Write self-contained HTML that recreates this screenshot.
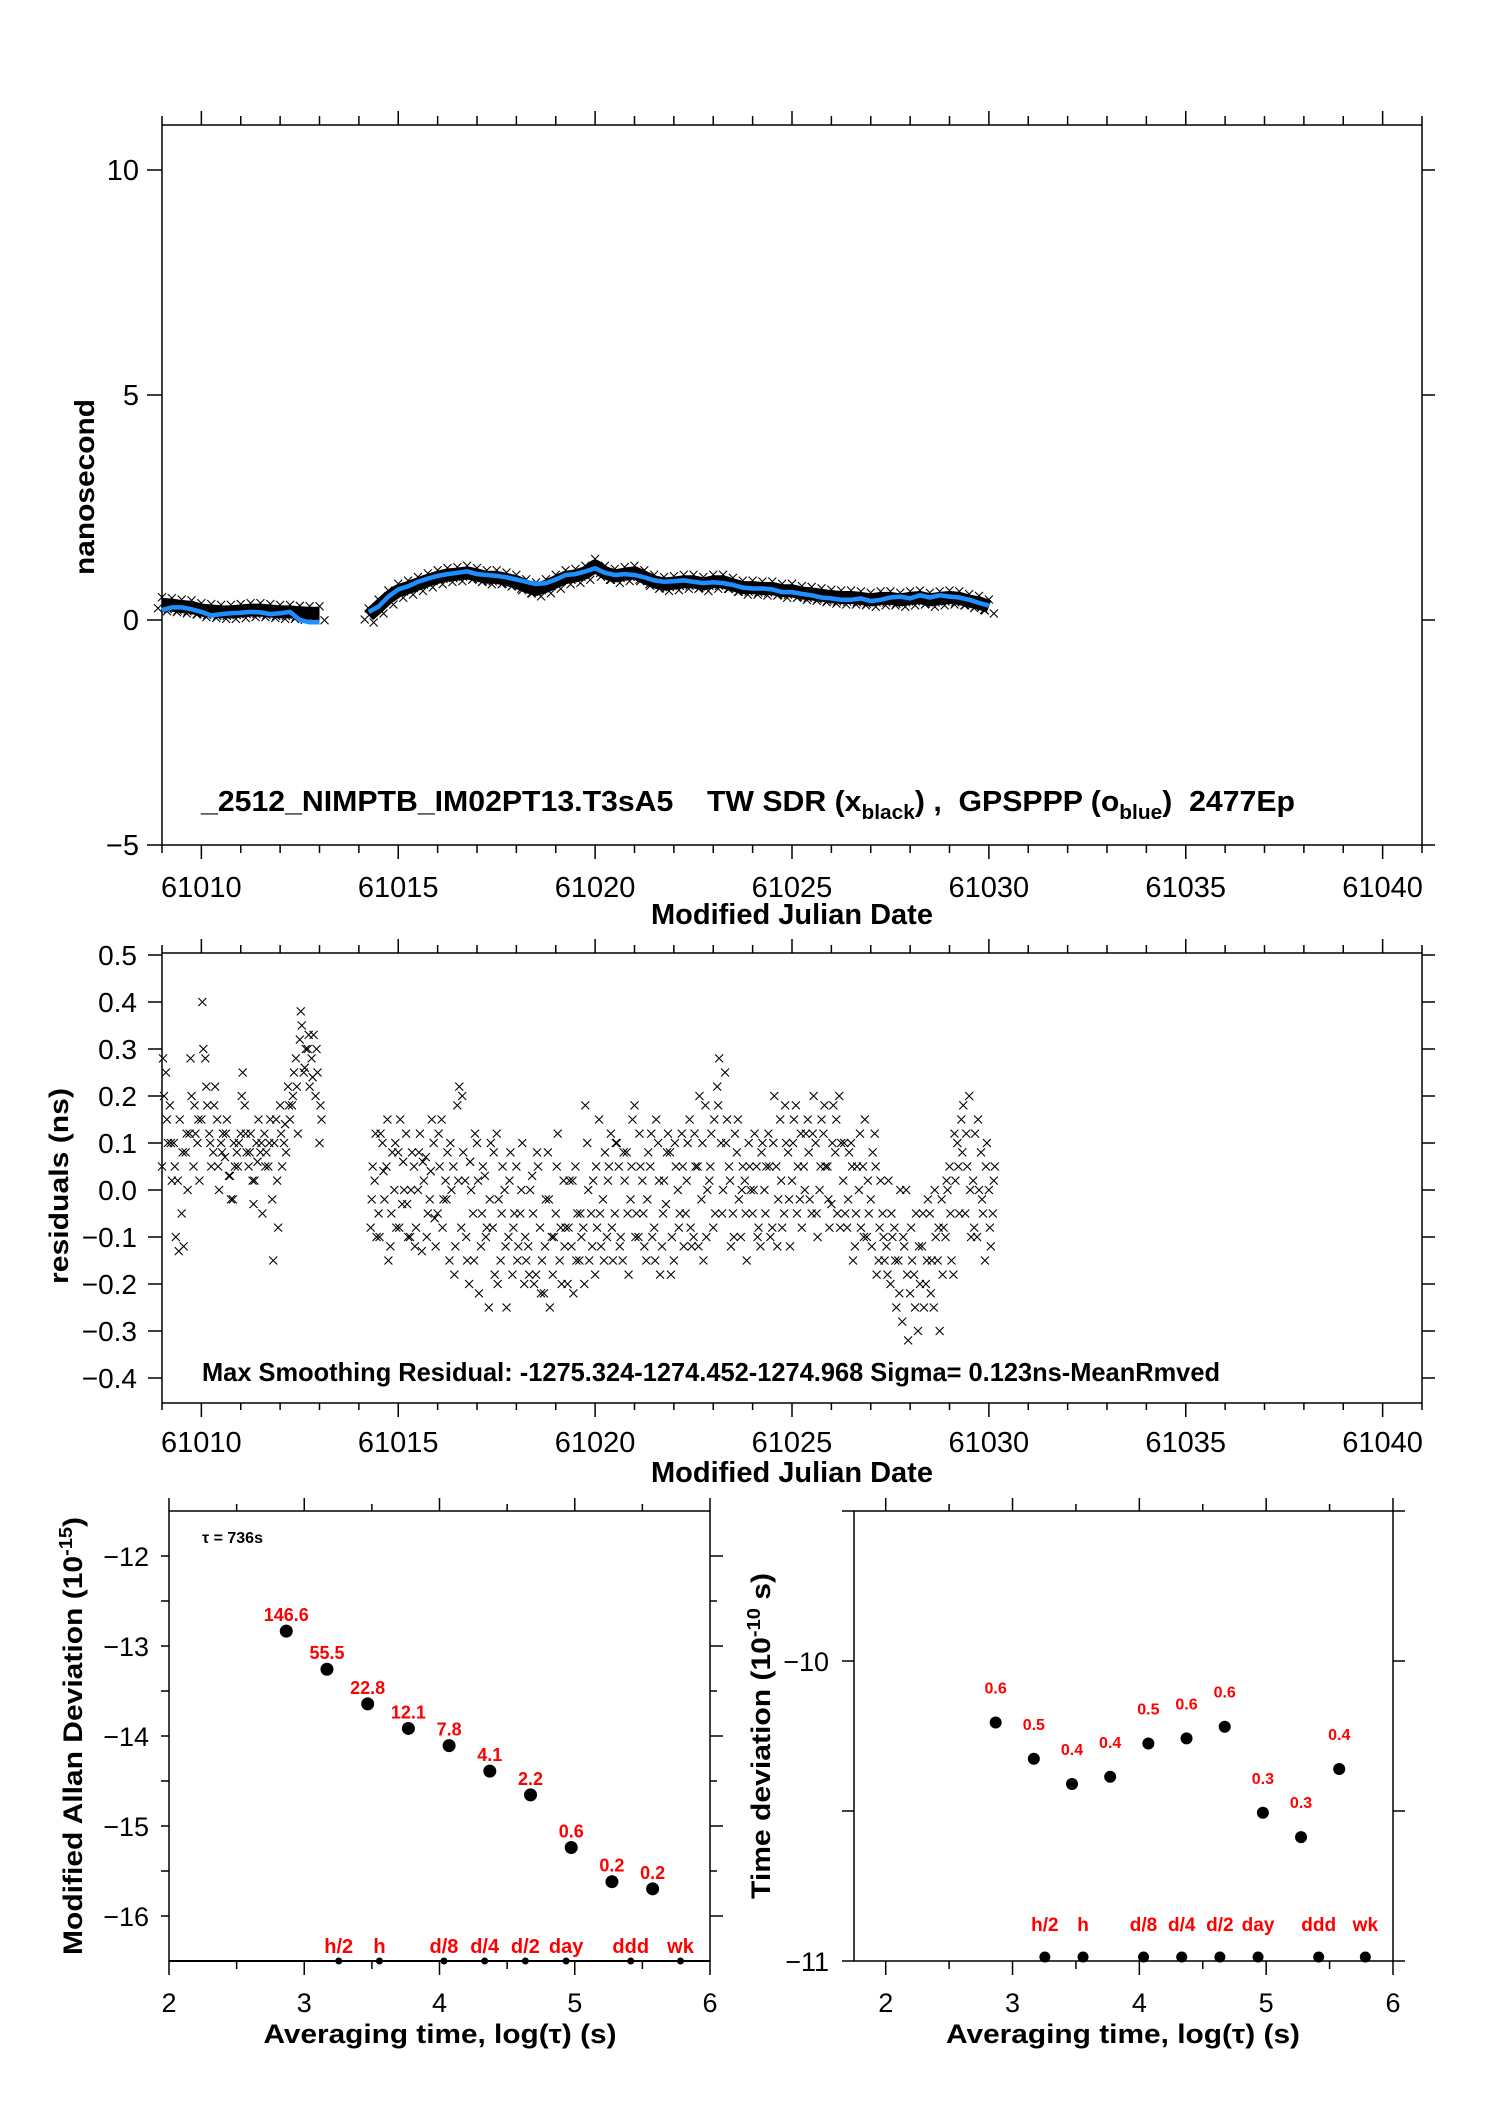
<!DOCTYPE html>
<html><head><meta charset="utf-8">
<style>
html,body{margin:0;padding:0;background:#fff;}
svg{display:block;font-family:"Liberation Sans",sans-serif;}
</style></head>
<body>
<svg id="chart" width="1488" height="2105" viewBox="0 0 1488 2105" xmlns="http://www.w3.org/2000/svg">
<rect x="0" y="0" width="1488" height="2105" fill="#fff"/>
<g id="top-plot"></g>
<g id="mid-plot"></g>
<g id="bl-plot"></g>
<g id="br-plot"></g>
</svg>
<script>
// ---------- DATA ----------
const seg1Start = 61009.0, seg2Start = 61014.25, topStep = 0.25;
const blackSeg1 = [0.35,0.33,0.30,0.28,0.22,0.20,0.18,0.18,0.20,0.22,0.22,0.20,0.18,0.18,0.16,0.15,0.15];
const blueSeg1  = [0.22,0.28,0.28,0.24,0.18,0.10,0.13,0.15,0.16,0.18,0.17,0.13,0.15,0.18,0.0,-0.05,-0.05];
const blackSeg2 = [0.10,0.30,0.50,0.65,0.72,0.80,0.88,0.95,1.0,1.02,1.05,1.0,0.95,0.95,0.90,0.85,0.75,0.68,0.75,0.85,0.95,0.98,1.05,1.2,1.05,0.98,1.02,1.05,0.95,0.85,0.80,0.82,0.85,0.85,0.80,0.85,0.85,0.78,0.72,0.72,0.70,0.70,0.65,0.65,0.60,0.58,0.55,0.52,0.50,0.50,0.48,0.45,0.48,0.48,0.45,0.48,0.50,0.45,0.48,0.50,0.48,0.42,0.38,0.30];
const blueSeg2  = [0.18,0.30,0.52,0.68,0.75,0.85,0.92,0.98,1.02,1.05,1.08,1.02,1.0,0.98,0.95,0.90,0.85,0.80,0.82,0.90,1.0,1.02,1.08,1.15,1.05,1.0,1.02,1.0,0.95,0.88,0.85,0.86,0.88,0.85,0.82,0.84,0.82,0.78,0.72,0.70,0.70,0.68,0.62,0.62,0.58,0.55,0.50,0.48,0.45,0.45,0.48,0.42,0.45,0.50,0.52,0.48,0.55,0.50,0.55,0.52,0.50,0.45,0.38,0.32];
const topYTicks = [10,5,0,-5];
const topYLabels = ["10","5","0","\u22125"];
const mjdTicks = [61010,61015,61020,61025,61030,61035,61040];

const resStep = 0.1, res1Start = 61009.0, res2Start = 61014.3;
const res1A = [0.05,0.25,0.18,0.10,0.02,-0.05,0.08,0.12,0.05,0.10,0.15,0.28,0.12,0.08,0.15,0.10,0.07,0.03,-0.02,0.08,0.12,0.18,0.05,0.02,0.10,0.08,0.12,0.05,-0.02,0.15,0.18,0.10,0.22,0.18,0.28,0.32,0.25,0.30,0.28,0.20,0.10];
const res1B = [0.20,0.10,0.02,-0.10,0.15,-0.12,0.0,0.20,0.12,0.02,0.30,0.18,0.05,0.22,0.0,0.12,0.15,-0.02,0.05,0.10,0.25,0.08,0.12,0.02,0.15,-0.05,0.08,0.15,0.10,-0.08,0.05,0.08,0.15,0.25,0.12,0.35,0.30,0.22,0.33,0.25,0.15];
const res1C = [0.28,0.15,0.10,0.05,-0.13,0.08,0.12,0.28,0.18,0.15,0.40,0.22,0.10,0.18,0.05,0.08,0.12,0.03,0.10,0.05,0.20,0.12,0.08,-0.03,0.06,0.10,0.05,0.10,-0.15,0.02,0.12,0.14,0.18,0.20,0.22,0.38,0.26,0.33,0.24,0.30,0.18];
const res2A = [-0.08,0.02,-0.05,0.10,0.05,-0.12,0.0,0.08,-0.03,0.12,
-0.10,0.05,0.0,-0.13,0.07,-0.02,0.10,-0.05,0.15,0.02,
-0.15,0.05,0.18,-0.08,0.02,-0.20,-0.05,0.10,-0.12,0.03,
-0.25,-0.08,0.12,-0.15,0.0,-0.10,-0.18,0.05,-0.05,-0.20,
-0.12,0.03,-0.18,-0.08,-0.22,0.08,-0.10,-0.05,-0.15,0.02,
-0.20,-0.12,0.05,-0.15,-0.08,0.10,-0.05,-0.18,0.15,-0.02,
-0.10,0.12,-0.05,0.05,-0.15,0.08,-0.02,0.18,-0.10,0.02,
-0.15,0.05,-0.08,0.10,-0.12,-0.03,0.08,-0.15,0.0,0.12,
-0.05,0.15,-0.10,0.05,-0.02,0.18,0.02,-0.08,0.22,0.10,
0.25,0.05,-0.05,0.08,-0.10,0.02,0.10,-0.05,0.05,-0.12,
0.0,0.12,-0.08,0.05,0.15,-0.05,0.08,0.02,0.18,-0.02,
0.05,0.15,-0.05,0.10,0.0,0.12,0.05,-0.03,0.08,0.20,
0.02,-0.08,0.10,-0.12,0.0,0.05,-0.10,-0.02,0.12,-0.15,
-0.05,-0.12,-0.20,-0.08,-0.15,-0.28,0.0,-0.22,-0.18,-0.30,
-0.12,-0.20,-0.05,-0.25,-0.15,-0.02,-0.10,0.05,-0.18,0.10,
0.15,-0.05,0.20,0.02,-0.10,0.08,-0.15,0.0,-0.05];
const res2B = [0.05,-0.10,0.12,-0.02,-0.15,0.08,-0.08,0.15,0.0,-0.10,
0.08,-0.08,0.12,0.02,-0.05,0.15,-0.12,0.05,-0.02,0.08,
0.0,-0.12,0.22,0.08,-0.15,0.0,0.12,-0.22,0.05,-0.08,
0.10,-0.18,-0.02,0.05,-0.25,0.08,-0.05,-0.12,0.10,-0.15,
0.0,-0.20,0.05,-0.15,-0.02,-0.25,-0.10,0.12,-0.20,-0.08,
0.02,-0.22,-0.05,-0.10,0.18,-0.15,0.02,-0.08,-0.12,0.08,
0.05,-0.15,0.10,-0.10,0.02,-0.18,0.15,-0.05,0.05,-0.12,
0.08,-0.10,0.15,-0.18,0.02,0.12,-0.10,0.05,-0.05,-0.12,
0.10,-0.12,0.05,0.20,-0.15,0.0,0.12,-0.05,0.28,0.0,
0.15,-0.12,0.12,-0.02,0.05,-0.15,0.0,0.12,-0.08,0.10,
0.05,-0.10,0.20,-0.02,-0.08,0.10,-0.12,0.15,0.05,-0.08,
0.12,-0.02,0.20,-0.10,0.15,0.05,-0.08,0.18,-0.05,0.10,
-0.05,0.08,-0.15,0.05,-0.08,0.15,-0.05,0.08,-0.18,0.02,
-0.15,0.02,-0.10,-0.25,0.0,-0.12,-0.32,-0.15,-0.05,-0.20,
-0.25,-0.02,-0.15,-0.10,-0.30,-0.08,0.0,-0.15,0.02,-0.05,
0.18,0.05,-0.10,0.12,0.0,-0.05,0.10,-0.12,0.05];
const res2C = [-0.02,0.12,-0.10,0.04,0.15,-0.05,0.10,-0.08,0.06,-0.03,
0.00,-0.12,0.08,0.06,-0.10,0.04,-0.06,0.12,-0.08,-0.02,
0.10,-0.18,0.02,0.20,-0.10,0.06,-0.15,0.02,-0.05,-0.10,
-0.02,0.08,-0.20,-0.05,-0.12,0.02,-0.08,-0.15,0.00,-0.10,
-0.18,-0.05,0.08,-0.22,-0.12,-0.02,-0.18,0.05,-0.08,-0.12,
-0.08,0.02,-0.15,-0.05,-0.20,0.00,-0.12,0.05,-0.05,-0.15,
0.02,-0.08,0.10,-0.12,0.08,-0.05,0.05,-0.10,0.12,-0.05,
-0.02,0.12,-0.15,0.02,-0.05,0.08,-0.18,0.10,-0.08,0.05,
0.02,-0.08,0.12,-0.12,0.10,-0.10,0.05,0.15,0.18,-0.05,
0.10,0.02,-0.10,0.15,0.00,-0.05,0.05,0.00,-0.10,0.08,
-0.05,0.05,0.10,-0.12,0.02,0.18,-0.02,0.10,-0.05,0.12,
0.00,0.08,0.12,-0.05,0.05,0.18,-0.02,0.10,0.15,-0.08,
0.10,-0.02,0.05,-0.05,0.12,-0.10,0.02,-0.12,0.05,-0.08,
-0.10,-0.18,-0.05,-0.15,-0.22,-0.10,-0.18,-0.08,-0.25,-0.12,
-0.05,-0.15,-0.22,0.00,-0.08,-0.18,0.02,-0.05,0.12,0.05,
0.08,0.12,0.00,-0.08,0.15,-0.02,0.05,-0.08,0.02];
const resYTicks = [0.5,0.4,0.3,0.2,0.1,0.0,-0.1,-0.2,-0.3,-0.4];
const resYLabels = ["0.5","0.4","0.3","0.2","0.1","0.0","\u22120.1","\u22120.2","\u22120.3","\u22120.4"];

const logTau = [2.867,3.168,3.469,3.770,4.071,4.372,4.673,4.974,5.275,5.576];
const madevLog = [-12.835,-13.258,-13.643,-13.916,-14.107,-14.390,-14.654,-15.239,-15.619,-15.698];
const madevLabels = ["146.6","55.5","22.8","12.1","7.8","4.1","2.2","0.6","0.2","0.2"];
const tdevLog = [-10.205,-10.326,-10.410,-10.386,-10.275,-10.258,-10.219,-10.506,-10.587,-10.360];
const tdevLabels = ["0.6","0.5","0.4","0.4","0.5","0.6","0.6","0.3","0.3","0.4"];
const markLog = [3.255,3.556,4.033,4.334,4.635,4.936,5.414,5.782];
const markLabels = ["h/2","h","d/8","d/4","d/2","day","ddd","wk"];
const logTicks = [2,3,4,5,6];
const madevTicks = [-12,-13,-14,-15,-16];
const madevTickLabels = ["\u221212","\u221213","\u221214","\u221215","\u221216"];
const tdevTicks = [-10,-11];
const tdevTickLabels = ["\u221210","\u221211"];

// ---------- HELPERS ----------
const NS = "http://www.w3.org/2000/svg";
function mk(parent, tag, attrs, text){
  const e = document.createElementNS(NS, tag);
  for (const k in attrs) e.setAttribute(k, attrs[k]);
  if (text !== undefined) e.textContent = text;
  parent.appendChild(e);
  return e;
}
function line(p,x1,y1,x2,y2,w){ return mk(p,'line',{x1:x1,y1:y1,x2:x2,y2:y2,stroke:'#000','stroke-width':w||1.5}); }
function xmark(p,x,y,s,w){
  const d = `M${x-s},${y-s}L${x+s},${y+s}M${x-s},${y+s}L${x+s},${y-s}`;
  return mk(p,'path',{d:d,stroke:'#000','stroke-width':w||1.1,fill:'none'});
}

// ---------- TOP PLOT ----------
(function(){
  const g = document.getElementById('top-plot');
  const L=162,R=1422,T=125,B=845;
  const X = d => L + (d-61009)*(R-L)/32;
  const Y = v => 620 - 45*v;
  const f = mk(g,'rect',{x:L,y:T,width:R-L,height:B-T,fill:'none',stroke:'#000','stroke-width':1.5});
   
  for (let d=61009; d<=61041; d++){
    const major = d%5===0;
    line(g,X(d),B,X(d),B+(major?14:8));
    line(g,X(d),T,X(d),T-(major?14:9));
  }
  const xl = mk(g,'g',{});
   
  mjdTicks.forEach(t=>{ mk(xl,'text',{x:X(t),y:897,'font-size':29,'text-anchor':'middle'},String(t)); });
  const yl = mk(g,'g',{});
   
  topYTicks.forEach((t,i)=>{
    line(g,L-15,Y(t),L,Y(t)); line(g,R,Y(t),R+13,Y(t));
    mk(yl,'text',{x:139,y:Y(t)+10,'font-size':29,'text-anchor':'end'},topYLabels[i]);
  });
  const xt = mk(g,'text',{x:792,y:924,'font-size':29,'font-weight':'bold','text-anchor':'middle'},'Modified Julian Date');
   
  const yt = mk(g,'text',{x:0,y:0,'font-size':28,'font-weight':'bold','text-anchor':'middle',transform:'translate(94,487) rotate(-90)',textLength:176,lengthAdjust:'spacingAndGlyphs'},'nanosecond');
   

  function series(start, vals, color, width, name){
    const pts = vals.map((v,i)=>`${X(start+i*topStep).toFixed(1)},${Y(v).toFixed(1)}`).join(' ');
    const pl = mk(g,'polyline',{points:pts,fill:'none',stroke:color,'stroke-width':width,'stroke-linejoin':'round'});
     
    return pl;
  }
  series(seg1Start, blackSeg1,'#000',13,'tw-sdr-series-1');
  series(seg2Start, blackSeg2,'#000',13,'tw-sdr-series-2');
  const mg = mk(g,'g',{});
   
  blackSeg1.forEach((v,i)=>{ const x=X(seg1Start+i*topStep); xmark(mg,x,Y(v)-7,4); xmark(mg,x+5,Y(v)+7,4); xmark(mg,x-4,Y(v)+4,4); });
  blackSeg2.forEach((v,i)=>{ const x=X(seg2Start+i*topStep); xmark(mg,x,Y(v)-7,4); xmark(mg,x+5,Y(v)+7,4); xmark(mg,x-4,Y(v)+4,4); });
  series(seg1Start, blueSeg1,'#1e8fff',4.5,'gpsppp-series-1');
  series(seg2Start, blueSeg2,'#1e8fff',4.5,'gpsppp-series-2');

  const tt = mk(g,'text',{x:201,y:811,'font-size':29,'font-weight':'bold',textLength:1094,lengthAdjust:'spacingAndGlyphs'});
   
  mk(tt,'tspan',{},'_2512_NIMPTB_IM02PT13.T3sA5\u00a0\u00a0\u00a0\u00a0TW SDR (x');
  mk(tt,'tspan',{'font-size':20,dy:8},'black');
  mk(tt,'tspan',{dy:-8},') ,\u00a0\u00a0GPSPPP (o');
  mk(tt,'tspan',{'font-size':20,dy:8},'blue');
  mk(tt,'tspan',{dy:-8},')\u00a0\u00a02477Ep');
})();

// ---------- MIDDLE PLOT ----------
(function(){
  const g = document.getElementById('mid-plot');
  const L=162,R=1422,T=953,B=1403;
  const X = d => L + (d-61009)*(R-L)/32;
  const Y = v => 1190 - 470*v;
  const f = mk(g,'rect',{x:L,y:T,width:R-L,height:B-T,fill:'none',stroke:'#000','stroke-width':1.5});
   
  for (let d=61009; d<=61041; d++){
    const major = d%5===0;
    line(g,X(d),B,X(d),B+(major?14:7));
    line(g,X(d),T,X(d),T-(major?14:8));
  }
  const xl = mk(g,'g',{});
   
  mjdTicks.forEach(t=>{ mk(xl,'text',{x:X(t),y:1452,'font-size':29,'text-anchor':'middle'},String(t)); });
  const yl = mk(g,'g',{});
   
  resYTicks.forEach((t,i)=>{
    line(g,L-14,Y(t),L,Y(t)); line(g,R,Y(t),R+13,Y(t));
    mk(yl,'text',{x:137,y:Y(t)+10,'font-size':28,'text-anchor':'end'},resYLabels[i]);
  });
  const xt = mk(g,'text',{x:792,y:1482,'font-size':29,'font-weight':'bold','text-anchor':'middle'},'Modified Julian Date');
   
  const yt = mk(g,'text',{x:0,y:0,'font-size':27,'font-weight':'bold','text-anchor':'middle',transform:'translate(68,1186) rotate(-90)',textLength:196,lengthAdjust:'spacingAndGlyphs'},'residuals (ns)');
   
  const mg = mk(g,'g',{});
   
  res1A.forEach((v,i)=>xmark(mg,X(res1Start+i*resStep),Y(v),4));
  res1B.forEach((v,i)=>xmark(mg,X(res1Start+i*resStep+0.05),Y(v),4));
  res1C.forEach((v,i)=>xmark(mg,X(res1Start+i*resStep+0.025),Y(v),4));
  res2A.forEach((v,i)=>xmark(mg,X(res2Start+i*resStep),Y(v),4));
  res2B.forEach((v,i)=>xmark(mg,X(res2Start+i*resStep+0.05),Y(v),4));
  res2C.forEach((v,i)=>xmark(mg,X(res2Start+i*resStep+0.025),Y(v),4));
  const tt = mk(g,'text',{x:202,y:1381,'font-size':26,'font-weight':'bold',textLength:1018,lengthAdjust:'spacingAndGlyphs'},'Max Smoothing Residual: -1275.324-1274.452-1274.968  Sigma= 0.123ns-MeanRmved');
   
})();

// ---------- BOTTOM LEFT ----------
(function(){
  const g = document.getElementById('bl-plot');
  const L=169,R=710,T=1511,B=1961;
  const X = l => L + (l-2)*(R-L)/4;
  const Y = v => 1556 - (v+12)*90;
  const f = mk(g,'rect',{x:L,y:T,width:R-L,height:B-T,fill:'none',stroke:'#000','stroke-width':1.5});
   
  line(g,L,B,R,B,2);
  for (let l=2; l<=6.01; l+=0.5){
    const major = Math.abs(l-Math.round(l))<0.01;
    line(g,X(l),B,X(l),B+(major?14:8));
    line(g,X(l),T,X(l),T-(major?13:7));
  }
  for (let v=-12; v>=-16.01; v-=0.5){
    const major = Math.abs(v-Math.round(v))<0.01;
    line(g,L-8,Y(v),L,Y(v)); line(g,R,Y(v),R+(major?13:7),Y(v));
  }
  const xl = mk(g,'g',{});
   
  logTicks.forEach(t=>mk(xl,'text',{x:X(t),y:2012,'font-size':27,'text-anchor':'middle'},String(t)));
  const yl = mk(g,'g',{});
   
  madevTicks.forEach((t,i)=>mk(yl,'text',{x:149,y:Y(t)+10,'font-size':27,'text-anchor':'end'},madevTickLabels[i]));
  const xt = mk(g,'text',{x:440,y:2043,'font-size':27,'font-weight':'bold','text-anchor':'middle',textLength:353,lengthAdjust:'spacingAndGlyphs'},'Averaging time, log(\u03c4) (s)');
   
  const yt = mk(g,'text',{x:0,y:0,'font-size':27,'font-weight':'bold','text-anchor':'middle',transform:'translate(82,1736) rotate(-90)',textLength:438,lengthAdjust:'spacingAndGlyphs'});
   
  mk(yt,'tspan',{},'Modified Allan Deviation (10');
  mk(yt,'tspan',{'font-size':18,dy:-10},'-15');
  mk(yt,'tspan',{dy:10},')');
  const tl = mk(g,'text',{x:202,y:1543,'font-size':16,'font-weight':'bold'},'\u03c4 = 736s');
   
  logTau.forEach((l,i)=>{
    const c = mk(g,'circle',{cx:X(l),cy:Y(madevLog[i]),r:6.5,fill:'#000'});
     
    const t = mk(g,'text',{x:X(l),y:Y(madevLog[i])-10,'font-size':18,'font-weight':'bold',fill:'#f00','text-anchor':'middle'},madevLabels[i]);
     
  });
  markLog.forEach((l,i)=>{
    const c = mk(g,'circle',{cx:X(l),cy:B,r:3.5,fill:'#000'});
     
    const t = mk(g,'text',{x:X(l),y:1953,'font-size':20,'font-weight':'bold',fill:'#f00','text-anchor':'middle'},markLabels[i]);
     
  });
})();

// ---------- BOTTOM RIGHT ----------
(function(){
  const g = document.getElementById('br-plot');
  const L=854,R=1393,T=1511,B=1961;
  const X = l => L + (l-1.75)*(R-L)/4.25;
  const Y = v => 1661 - (v+10)*300;
  const f = mk(g,'rect',{x:L,y:T,width:R-L,height:B-T,fill:'none',stroke:'#000','stroke-width':1.5});
   
  for (let l=2; l<=6.01; l+=0.5){
    const major = Math.abs(l-Math.round(l))<0.01;
    line(g,X(l),B,X(l),B+(major?14:8));
    line(g,X(l),T,X(l),T-(major?13:7));
  }
  for (let v=-9.5; v>=-11.01; v-=0.5){
    line(g,L-12,Y(v),L,Y(v)); line(g,R,Y(v),R+12,Y(v));
  }
  const xl = mk(g,'g',{});
   
  logTicks.forEach(t=>mk(xl,'text',{x:X(t),y:2012,'font-size':27,'text-anchor':'middle'},String(t)));
  const yl = mk(g,'g',{});
   
  tdevTicks.forEach((t,i)=>mk(yl,'text',{x:829,y:Y(t)+10,'font-size':27,'text-anchor':'end'},tdevTickLabels[i]));
  const xt = mk(g,'text',{x:1123,y:2043,'font-size':27,'font-weight':'bold','text-anchor':'middle',textLength:354,lengthAdjust:'spacingAndGlyphs'},'Averaging time, log(\u03c4) (s)');
   
  const yt = mk(g,'text',{x:0,y:0,'font-size':27,'font-weight':'bold','text-anchor':'middle',transform:'translate(770,1736) rotate(-90)',textLength:326,lengthAdjust:'spacingAndGlyphs'});
   
  mk(yt,'tspan',{},'Time deviation (10');
  mk(yt,'tspan',{'font-size':18,dy:-10},'-10');
  mk(yt,'tspan',{dy:10},' s)');
  logTau.forEach((l,i)=>{
    const c = mk(g,'circle',{cx:X(l),cy:Y(tdevLog[i]),r:6,fill:'#000'});
     
    const t = mk(g,'text',{x:X(l),y:Y(tdevLog[i])-29,'font-size':16,'font-weight':'bold',fill:'#f00','text-anchor':'middle'},tdevLabels[i]);
     
  });
  markLog.forEach((l,i)=>{
    const c = mk(g,'circle',{cx:X(l),cy:1957,r:5.5,fill:'#000'});
     
    const t = mk(g,'text',{x:X(l),y:1931,'font-size':19,'font-weight':'bold',fill:'#f00','text-anchor':'middle'},markLabels[i]);
     
  });
})();
</script>
</body></html>
